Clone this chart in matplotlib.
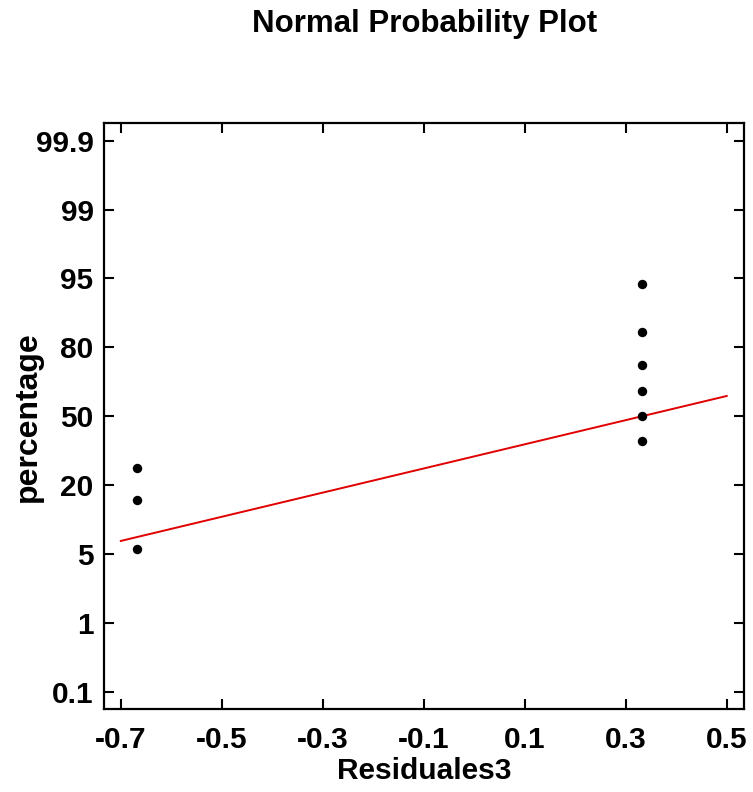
import numpy as np
import matplotlib
matplotlib.use("Agg")
import matplotlib.pyplot as plt
from statistics import NormalDist

# Residuals and their cumulative plotting positions (percent)
residuals = [-0.667, -0.667, -0.667, 0.333, 0.333, 0.333, 0.333, 0.333, 0.333]
cum_percent = [7.45, 18.09, 28.72, 39.36, 50.0, 60.64, 71.28, 81.91, 92.55]

# Reference normal line (location / scale)
line_center = 0.333
line_scale = 0.76
line_x_range = [-0.7, 0.5]

x_ticks = [-0.7, -0.5, -0.3, -0.1, 0.1, 0.3, 0.5]
x_tick_labels = ["-0.7", "-0.5", "-0.3", "-0.1", "0.1", "0.3", "0.5"]
y_tick_labels = ["0.1", "1", "5", "20", "50", "80", "95", "99", "99.9"]

plt.rcParams["font.family"] = ["Liberation Sans", "DejaVu Sans"]
plt.rcParams["font.weight"] = "bold"

nd = NormalDist()
_ppf = np.vectorize(nd.inv_cdf, otypes=[float])
_cdf = np.vectorize(nd.cdf, otypes=[float])


def to_z(p):
    p = np.clip(np.asarray(p, dtype=float) / 100.0, 1e-12, 1 - 1e-12)
    return _ppf(p)


def from_z(z):
    return _cdf(np.asarray(z, dtype=float)) * 100.0


fig = plt.figure(figsize=(7.53, 7.92), dpi=100)
ax = fig.add_axes([0.1381, 0.1048, 0.8496, 0.7395])
ax.set_yscale("function", functions=(to_z, from_z))

# fitted normal line
lx = np.linspace(line_x_range[0], line_x_range[1], 200)
ly = from_z((lx - line_center) / line_scale)
ax.plot(lx, ly, color="#e00000", lw=1.4, zorder=2)

# data points
ax.scatter(residuals, cum_percent, s=46, color="black", zorder=3, linewidths=0)

ax.set_xlim(-0.7333, 0.5337)
z_lim = 3.19
ax.set_ylim(from_z(-z_lim), from_z(z_lim))

ax.set_xticks(x_ticks)
ax.set_xticklabels(x_tick_labels)
z_step = 0.75
n_half = len(y_tick_labels) // 2
y_tick_pos = from_z(np.arange(-n_half, n_half + 1) * z_step)
ax.set_yticks(y_tick_pos)
ax.set_yticklabels(y_tick_labels)
ax.minorticks_off()

ax.tick_params(axis="both", which="major", direction="in", length=7.2, width=1.5,
               top=True, right=True, labelsize=21.5)
ax.tick_params(axis="x", pad=12)
ax.tick_params(axis="y", pad=7.5)
for sp in ax.spines.values():
    sp.set_linewidth(1.6)

ax.set_xlabel("Residuales3", fontsize=21.5, fontweight="bold")
ax.xaxis.label.set_va("baseline")
ax.xaxis.set_label_coords(0.5, -(779.5 - 709) / 585.7)
ax.set_ylabel("percentage", fontsize=23, fontweight="bold")
ax.yaxis.label.set_va("center")
ax.yaxis.set_label_coords(-(104 - 28) / 639.7, 0.5)

fig.text(0.5633, 1 - 32.3 / 792, "Normal Probability Plot", ha="center", va="baseline",
         fontsize=22.5, fontweight="bold")

fig.savefig("out.png", dpi=100)
